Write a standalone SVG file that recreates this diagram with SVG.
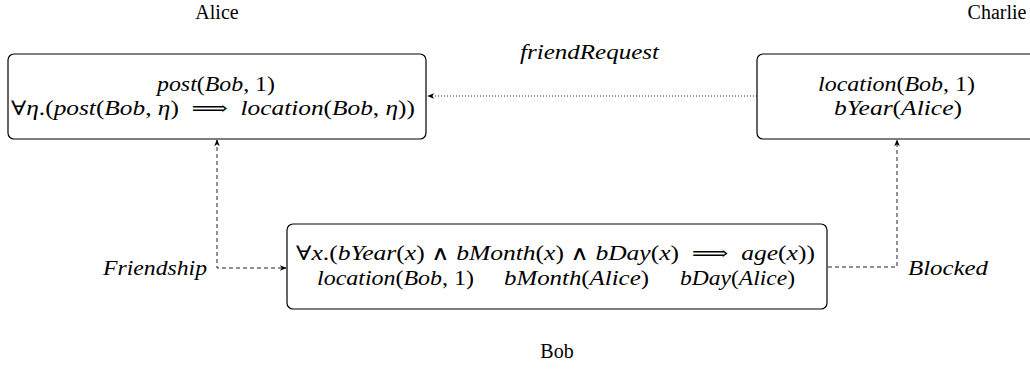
<svg xmlns="http://www.w3.org/2000/svg" width="1030" height="371" viewBox="0 0 1030 371">
  <style>
    .box { fill: #ffffff; stroke: #000000; stroke-width: 1.2; }
    .m { font-family: "Liberation Serif", "DejaVu Serif", serif; font-size: 20px; fill: #000; }
    .i { font-style: italic; }
    .name { font-family: "Liberation Serif", "DejaVu Serif", serif; font-size: 20px; fill: #000; }
    .dash { fill: none; stroke: #222; stroke-width: 1; stroke-dasharray: 4 3; }
    .dot { fill: none; stroke: #222; stroke-width: 1; stroke-dasharray: 1 2; }
  </style>
  <defs>
    <marker id="arrow" viewBox="0 0 10 10" refX="9" refY="5" markerWidth="7" markerHeight="7" orient="auto-start-reverse" markerUnits="userSpaceOnUse">
      <path d="M0,1 L10,5 L0,9 L3,5 Z" fill="#000"/>
    </marker>
  </defs>

  <g id="connectors">
    <!-- friendRequest: Charlie to Alice -->
    <line class="dot" x1="757" y1="96" x2="428" y2="96" marker-end="url(#arrow)"/>
    <!-- Friendship: Alice and Bob -->
    <polyline class="dash" points="217,140 217,268 286,268" marker-start="url(#arrow)" marker-end="url(#arrow)"/>
    <!-- Blocked: Bob to Charlie -->
    <polyline class="dash" points="828,267 897,267 897,140" marker-end="url(#arrow)"/>
    <text class="m i" x="103" y="275" textLength="104" lengthAdjust="spacingAndGlyphs">Friendship</text>
    <text class="m i" x="908" y="275" textLength="80" lengthAdjust="spacingAndGlyphs">Blocked</text>
    <text class="m i" x="520" y="59" textLength="139" lengthAdjust="spacingAndGlyphs">friendRequest</text>
  </g>

  <g id="alice">
    <rect class="box" x="8" y="54" width="418" height="85" rx="6"/>
    <text class="name" x="217" y="19" text-anchor="middle">Alice</text>
    <text class="m" x="157" y="91" textLength="118" lengthAdjust="spacingAndGlyphs"><tspan class="i">post</tspan>(<tspan class="i">Bob</tspan>, 1)</text>
    <text class="m" x="11" y="115" textLength="404" lengthAdjust="spacingAndGlyphs">∀<tspan class="i">η</tspan>.(<tspan class="i">post</tspan>(<tspan class="i">Bob</tspan>, <tspan class="i">η</tspan>)&#8194;⟹&#8194;<tspan class="i">location</tspan>(<tspan class="i">Bob</tspan>, <tspan class="i">η</tspan>))</text>
  </g>

  <g id="charlie">
    <rect class="box" x="757" y="54" width="280" height="85" rx="6"/>
    <text class="name" x="997" y="19" text-anchor="middle">Charlie</text>
    <text class="m" x="818" y="91" textLength="157" lengthAdjust="spacingAndGlyphs"><tspan class="i">location</tspan>(<tspan class="i">Bob</tspan>, 1)</text>
    <text class="m" x="834" y="115" textLength="128" lengthAdjust="spacingAndGlyphs"><tspan class="i">bYear</tspan>(<tspan class="i">Alice</tspan>)</text>
  </g>

  <g id="bob">
    <rect class="box" x="287" y="224" width="540" height="85" rx="6"/>
    <text class="name" x="557" y="358" text-anchor="middle">Bob</text>
    <text class="m" x="296" y="260" textLength="519" lengthAdjust="spacingAndGlyphs">∀<tspan class="i">x</tspan>.(<tspan class="i">bYear</tspan>(<tspan class="i">x</tspan>) ∧ <tspan class="i">bMonth</tspan>(<tspan class="i">x</tspan>) ∧ <tspan class="i">bDay</tspan>(<tspan class="i">x</tspan>)&#8194;⟹&#8194;<tspan class="i">age</tspan>(<tspan class="i">x</tspan>))</text>
    <text class="m" x="317" y="285" textLength="157" lengthAdjust="spacingAndGlyphs"><tspan class="i">location</tspan>(<tspan class="i">Bob</tspan>, 1)</text>
    <text class="m" x="504" y="285" textLength="145" lengthAdjust="spacingAndGlyphs"><tspan class="i">bMonth</tspan>(<tspan class="i">Alice</tspan>)</text>
    <text class="m" x="680" y="285" textLength="115" lengthAdjust="spacingAndGlyphs"><tspan class="i">bDay</tspan>(<tspan class="i">Alice</tspan>)</text>
  </g>
</svg>
